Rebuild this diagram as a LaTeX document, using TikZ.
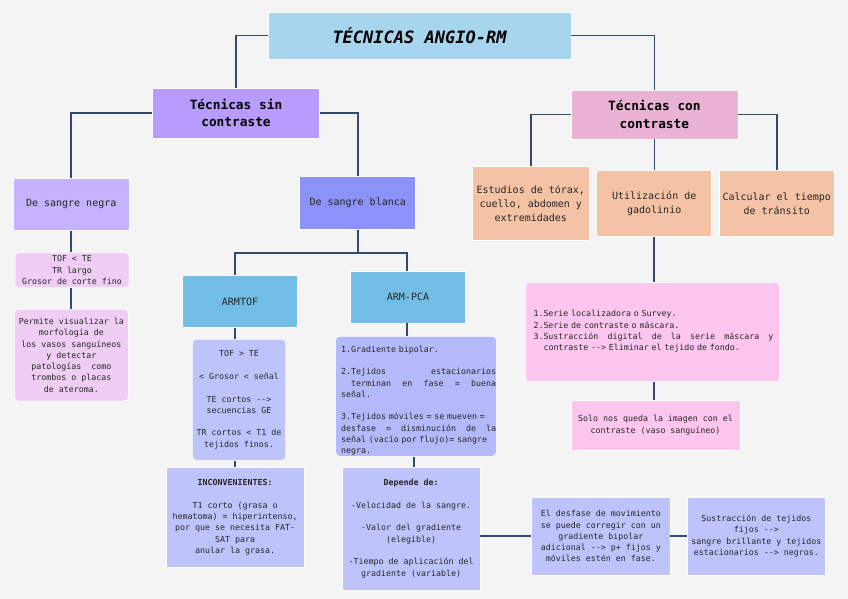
\documentclass[tikz,border=0pt]{standalone}
\usepackage{fontspec}
\setmonofont{DejaVu Sans Mono}
\newcommand\smf{\ttfamily\fontsize{8.3}{11.3}\selectfont}
\newcommand\mdf{\ttfamily\fontsize{10}{14}\selectfont}
\newcommand\hdf{\ttfamily\bfseries\fontsize{12.8}{17.7}\selectfont}
\newcommand\ttlf{\ttfamily\bfseries\itshape\fontsize{17}{20}\selectfont}
\definecolor{bgc}{HTML}{F4F4F4}
\definecolor{linec}{HTML}{34496A}
\definecolor{txtc}{HTML}{262626}
\definecolor{titlec}{HTML}{A8D5EE}
\definecolor{sinc}{HTML}{B79CFD}
\definecolor{conc}{HTML}{EAB2D3}
\definecolor{negrac}{HTML}{C6B2FC}
\definecolor{blancac}{HTML}{8B93F8}
\definecolor{lilac}{HTML}{EFCDF5}
\definecolor{skyc}{HTML}{72BDE6}
\definecolor{peric}{HTML}{BEC3FC}
\definecolor{pcac}{HTML}{B3B9F9}
\definecolor{peachc}{HTML}{F4C3A5}
\definecolor{pinkc}{HTML}{FDC6EF}
\begin{document}
\begin{tikzpicture}[x=1pt,y=-1pt,
  box/.style={draw=white, line width=0.5pt, inner sep=0pt, align=center, font=\smf, text=txtc},
  rbox/.style={box, rounded corners=4pt},
  conn/.style={draw=linec, line width=1.8pt, line join=miter}]
\fill[bgc] (0,0) rectangle (848,599);
\useasboundingbox (0,0) rectangle (848,599);

% level 0/1
\node[box, fill=titlec, minimum width=303, minimum height=47, font=\ttlf, text=black] (title) at (419.5,35.5) {TÉCNICAS ANGIO-RM};
\node[box, fill=sinc, minimum width=167, minimum height=50, font=\hdf, text=black] (sin) at (236,113) {Técnicas sin\\contraste};
\node[box, fill=conc, minimum width=167, minimum height=49, font=\hdf, text=black] (con) at (654.4,114.5) {Técnicas con\\contraste};

% level 2
\node[box, fill=negrac, minimum width=115.7, minimum height=52, font=\mdf] (negra) at (71.2,204.3) {De sangre negra};
\node[box, fill=blancac, minimum width=116, minimum height=52.6, font=\mdf] (blanca) at (357.7,203) {De sangre blanca};
\node[box, fill=peachc, minimum width=117, minimum height=73.3, font=\mdf] (estudios) at (530.8,203.3) {Estudios de tórax,\\cuello, abdomen y\\extremidades};
\node[box, fill=peachc, minimum width=115, minimum height=66, font=\mdf] (utiliz) at (654.2,203.7) {Utilización de\\gadolinio};
\node[box, fill=peachc, minimum width=115.3, minimum height=66, font=\mdf] (calc) at (776.7,203.7) {Calcular el tiempo\\de tránsito};

% sangre negra branch
\node[rbox, fill=lilac, minimum width=114, minimum height=35.4] (tofte) at (72,270) {TOF < TE\\TR largo\\Grosor de corte fino};
\node[rbox, fill=lilac, minimum width=114, minimum height=91.7] (permite) at (71.3,355.2) {Permite visualizar la\\morfología de\\los vasos sanguíneos\\y detectar\\patologías~ como\\trombos o placas\\de ateroma.};

% sangre blanca branch
\coordinate (bj) at (357.7,253.3);
\node[box, fill=skyc, minimum width=115.4, minimum height=52, font=\mdf] (armtof) at (240,301.7) {ARMTOF};
\node[box, fill=skyc, minimum width=115.4, minimum height=51.7, font=\mdf] (armpca) at (408,297.2) {ARM-PCA};
\node[rbox, fill=peric, minimum width=93.4, minimum height=121] (tofD) at (239,399.8) {TOF > TE\\[11.3pt]< Grosor < señal\\[11.3pt]TE cortos -->\\secuencias GE\\[11.3pt]TR cortos < T1 de\\tejidos finos.};
\node[rbox, fill=pcac, minimum width=160.6, minimum height=120] (pcaD) at (416,396.3) {};
\node[anchor=north west, inner sep=0pt, text width=155, align=left, font=\smf, text=txtc] (pcaT) at (341,345.6) {1.Gradiente bipolar.\\[11.3pt]
2.Tejidos\hfill estacionarios\\
\hspace*{10pt}terminan\hfill en\hfill fase\hfill =\hfill buena\\
señal.\\[11.3pt]
3.Tejidos móviles = se mueven =\\
desfase\hfill =\hfill disminución\hfill de\hfill la\\
señal (vacío por flujo)= sangre\\
negra.};
\node[box, fill=peric, minimum width=138.3, minimum height=100] (inconv) at (235.2,517.3) {\bfseries INCONVENIENTES:\\[11.3pt]T1 corto (grasa o\\hematoma) = hiperintenso,\\por que se necesita FAT-\\SAT para\\anular la grasa.};
\node[box, fill=peric, minimum width=137.7, minimum height=122.7] (depende) at (411.2,528.7) {\bfseries Depende de:\\[11.3pt]-Velocidad de la sangre.\\[11.3pt]-Valor del gradiente\\(elegible)\\[11.3pt]-Tiempo de aplicación del\\gradiente (variable)};
\node[box, fill=peric, minimum width=138.3, minimum height=77.7] (desfase) at (600.8,536.2) {El desfase de movimiento\\se puede corregir con un\\gradiente bipolar\\adicional --> p+ fijos y\\móviles estén en fase.};
\node[box, fill=peric, minimum width=138, minimum height=77.7] (sustr) at (756.3,536.2) {Sustracción de tejidos\\fijos -->\\sangre brillante y tejidos\\estacionarios --> negros.};

% con contraste branch
\node[box, fill=pinkc, minimum width=253.7, minimum height=99.7] (serie) at (652.2,331.8) {};
\node[anchor=west, inner sep=0pt, text width=240, align=left, font=\smf, text=txtc] (serieT) at (533.3,331.6) {1.Serie localizadora o Survey.\\
2.Serie de contraste o máscara.\\
3.Sustracción\hfill digital\hfill de\hfill la\hfill serie\hfill máscara\hfill y\\
\hspace*{10pt}contraste --> Eliminar el tejido de fondo.};
\node[box, fill=pinkc, minimum width=169, minimum height=50.7] (solo) at (655.5,425.3) {Solo nos queda la imagen con el\\contraste (vaso sanguíneo)};

% connectors
\draw[conn] (title.west) -| (sin.north);
\draw[conn] (title.east) -| (con.north);
\draw[conn] (sin.west) -| (negra.north);
\draw[conn] (sin.east) -| (blanca.north);
\draw[conn] (con.west) -| (estudios.north);
\draw[conn] (con.south) -- (con.south |- utiliz.north);
\draw[conn] (con.east) -| (calc.north);
\draw[conn] (negra.south) -- (negra.south |- tofte.north);
\draw[conn] (tofte.south -| negra.south) -- (negra.south |- permite.north);
\draw[conn] (blanca.south) -- (bj);
\draw[conn] (bj) -| (armtof.north -| inconv.north);
\draw[conn] (bj) -| ([xshift=-1pt]armpca.north);
\draw[conn] (armtof.south -| inconv.north) -- (tofD.north -| inconv.north);
\draw[conn] (tofD.south -| inconv.north) -- (inconv.north);
\draw[conn] ([xshift=-1pt]armpca.south) -- ([xshift=-1pt]armpca.south |- pcaD.north);
\draw[conn] ([xshift=-2pt]pcaD.south) -- ([xshift=-2pt]pcaD.south |- depende.north);
\draw[conn] (desfase.west -| depende.east) -- (desfase.west);
\draw[conn] (desfase.east) -- (sustr.west);
\draw[conn] (utiliz.south) -- (utiliz.south |- serie.north);
\draw[conn] (serie.south -| utiliz.south) -- (solo.north -| utiliz.south);
\end{tikzpicture}
\end{document}
